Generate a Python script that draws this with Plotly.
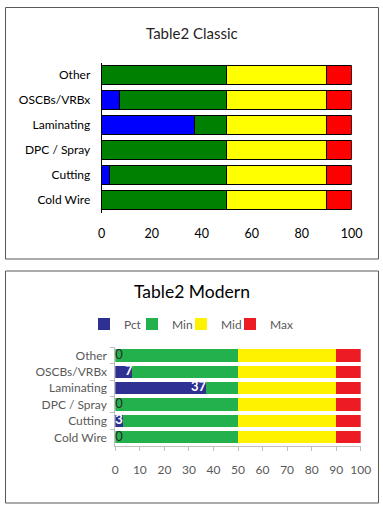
import plotly.graph_objects as go

# ---- data ----
categories = ["Cold Wire", "Cutting", "DPC / Spray", "Laminating", "OSCBs/VRBx", "Other"]
pct_vals = [0, 3, 0, 37, 7, 0]
min_vals = [50, 47, 50, 13, 43, 50]
mid_vals = [40, 40, 40, 40, 40, 40]
max_vals = [10, 10, 10, 10, 10, 10]
series_names = ["Pct", "Min", "Mid", "Max"]
x_ticks_classic = [0, 20, 40, 60, 80, 100]
x_ticks_modern = [0, 10, 20, 30, 40, 50, 60, 70, 80, 90, 100]

W, H = 383, 509
FONT = "Lato"

classic_colors = ["#0000FF", "#008000", "#FFFF00", "#FF0000"]
modern_colors = ["#2E3192", "#22B14C", "#FFF200", "#ED1C24"]
series_vals = [pct_vals, min_vals, mid_vals, max_vals]
legend_ids = ["legend", "legend2", "legend3", "legend4"]
legend_left_px = [84, 132, 181, 230]   # left edge of each legend entry

def px_x(x):
    return x / W

def px_y(y):
    return 1 - y / H

fig = go.Figure()

# classic (top)
for name, vals, col in zip(series_names, series_vals, classic_colors):
    fig.add_trace(go.Bar(
        y=categories, x=vals, orientation="h", name=name,
        marker=dict(color=col, line=dict(color="#000000", width=1)),
        xaxis="x", yaxis="y", showlegend=False, hoverinfo="skip",
    ))

# modern (bottom)
for name, vals, col, lg in zip(series_names, series_vals, modern_colors, legend_ids):
    fig.add_trace(go.Bar(
        y=categories, x=vals, orientation="h", name=name,
        marker=dict(color=col, line=dict(width=0)),
        xaxis="x2", yaxis="y2", showlegend=True, legend=lg, hoverinfo="skip",
    ))

# data labels for Pct in the modern chart
label_pos = ["middle left" if v > 0 else "middle right" for v in pct_vals]
label_col = ["#FFFFFF" if v > 0 else "#2B2B2B" for v in pct_vals]
label_weight = ["bold" if v > 0 else "normal" for v in pct_vals]
fig.add_trace(go.Scatter(
    y=categories, x=pct_vals, mode="text", text=[str(v) for v in pct_vals],
    textposition=label_pos,
    textfont=dict(family=FONT, size=13, color=label_col, weight=label_weight),
    xaxis="x2", yaxis="y2", showlegend=False, hoverinfo="skip", cliponaxis=False,
))

legend_layouts = {}
for lg, left in zip(legend_ids, legend_left_px):
    legend_layouts[lg] = dict(
        orientation="h", x=px_x(left), y=px_y(324), xanchor="left", yanchor="middle",
        font=dict(family=FONT, size=12, color="#595959"),
        itemwidth=30, bgcolor="rgba(0,0,0,0)", borderwidth=0,
    )

fig.update_layout(
    width=W, height=H, autosize=False,
    margin=dict(l=0, r=0, t=0, b=0, autoexpand=False),
    paper_bgcolor="#FFFFFF", plot_bgcolor="rgba(0,0,0,0)",
    barmode="stack", bargap=0.25,
    font=dict(family=FONT),
    xaxis=dict(
        domain=[px_x(101.7), px_x(351.7)], range=[0, 100], anchor="y", automargin=False,
        tickvals=x_ticks_classic, showgrid=False, zeroline=False, showline=False,
        ticks="outside", ticklen=9, tickcolor="rgba(0,0,0,0)",
        tickfont=dict(family=FONT, size=12.5, color="#000000"),
    ),
    yaxis=dict(
        domain=[px_y(212.5), px_y(62.5)], anchor="x", automargin=False,
        showgrid=False, zeroline=False, showline=True, linecolor="#000000", linewidth=1,
        ticks="outside", ticklen=8, tickcolor="rgba(0,0,0,0)",
        tickfont=dict(family=FONT, size=12, color="#000000"),
    ),
    xaxis2=dict(
        domain=[px_x(115.3), px_x(360.7)], range=[0, 100], anchor="y2", automargin=False,
        tickvals=x_ticks_modern, showgrid=False, zeroline=False,
        showline=True, linecolor="#BFBFBF", linewidth=1,
        ticks="outside", ticklen=4, tickcolor="#BFBFBF", ticklabelstandoff=9,
        tickfont=dict(family=FONT, size=12, color="#595959"),
    ),
    yaxis2=dict(
        domain=[px_y(445.5), px_y(347.3)], anchor="x2", automargin=False,
        showgrid=False, zeroline=False, showline=True, linecolor="#BFBFBF", linewidth=1,
        ticks="outside", ticklen=4, tickcolor="#BFBFBF", tickson="boundaries",
        ticklabelstandoff=5,
        tickfont=dict(family=FONT, size=12, color="#595959"),
    ),
    shapes=[
        dict(type="rect", xref="paper", yref="paper",
             x0=px_x(5.5), x1=px_x(378.5), y0=px_y(259), y1=px_y(7.5),
             line=dict(color="#595959", width=1), fillcolor="rgba(0,0,0,0)", layer="below"),
        dict(type="rect", xref="paper", yref="paper",
             x0=px_x(5.5), x1=px_x(378.5), y0=px_y(503), y1=px_y(271),
             line=dict(color="#595959", width=1), fillcolor="rgba(0,0,0,0)", layer="below"),
    ],
    annotations=[
        dict(text="Table2 Classic", xref="paper", yref="paper",
             x=px_x(192), y=px_y(33), xanchor="center", yanchor="middle",
             showarrow=False, font=dict(family=FONT, size=15, color="#1F1F1F")),
        dict(text="Table2 Modern", xref="paper", yref="paper",
             x=px_x(192), y=px_y(291), xanchor="center", yanchor="middle",
             showarrow=False, font=dict(family=FONT, size=17.5, color="#000000")),
    ],
    **legend_layouts,
)

fig.write_html(
    "out.html",
    config={"displayModeBar": False, "responsive": False},
    post_script="document.body.style.margin='0px';document.body.style.overflow='hidden';",
)
